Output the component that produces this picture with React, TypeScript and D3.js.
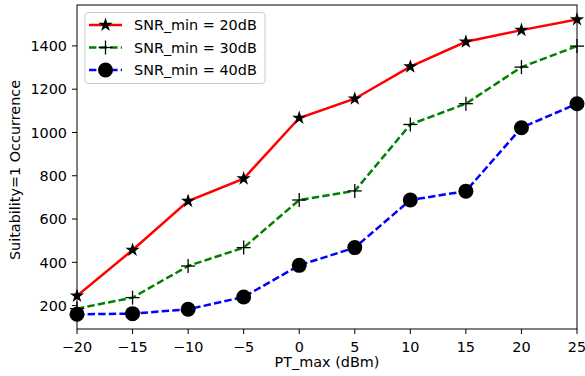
import React from "react";
import * as d3 from "d3";

const xValues = [-20, -15, -10, -5, 0, 5, 10, 15, 20, 25];
const snr20 = [245, 457, 683, 787, 1067, 1156, 1304, 1419, 1473, 1522];
const snr30 = [186, 237, 383, 468, 688, 730, 1037, 1133, 1302, 1399];
const snr40 = [160, 163, 183, 240, 386, 468, 688, 729, 1022, 1133];
const xTicks = [-20, -15, -10, -5, 0, 5, 10, 15, 20, 25];
const yTicks = [200, 400, 600, 800, 1000, 1200, 1400];
const seriesNames = ["SNR_min = 20dB", "SNR_min = 30dB", "SNR_min = 40dB"];

const W = 585, H = 376;
const M = { left: 77, right: 577, top: 5, bottom: 329 };
const FONT = "DejaVu Sans, sans-serif";
const FS = 14.4;

function starPath(cx: number, cy: number, R: number) {
  const r = R * 0.381966;
  const pts: string[] = [];
  for (let i = 0; i < 10; i++) {
    const a = -Math.PI / 2 + (i * Math.PI) / 5;
    const rr = i % 2 === 0 ? R : r;
    pts.push(`${cx + rr * Math.cos(a)},${cy + rr * Math.sin(a)}`);
  }
  return "M" + pts.join("L") + "Z";
}

function Marker({ kind, x, y }: { kind: string; x: number; y: number }) {
  if (kind === "star") return <path d={starPath(x, y, 7.5)} fill="black" />;
  if (kind === "plus")
    return (
      <g stroke="black" strokeWidth={1.3}>
        <line x1={x - 7} x2={x + 7} y1={y} y2={y} />
        <line x1={x} x2={x} y1={y - 7} y2={y + 7} />
      </g>
    );
  return <circle cx={x} cy={y} r={7.5} fill="black" />;
}

export default function App() {
  const x = d3.scaleLinear().domain([-20, 25]).range([M.left, M.right]);
  const y = d3.scaleLinear().domain([92, 1589]).range([M.bottom, M.top]);
  const series = [
    { name: seriesNames[0], data: snr20, color: "#ff0000", dash: undefined, marker: "star" },
    { name: seriesNames[1], data: snr30, color: "#008000", dash: "7.4,3.2", marker: "plus" },
    { name: seriesNames[2], data: snr40, color: "#0000ff", dash: "7.4,3.2", marker: "circle" },
  ];
  const line = d3
    .line<number>()
    .x((_, i) => x(xValues[i]))
    .y((d) => y(d));

  return (
    <div style={{ position: "absolute", left: 0, top: 0 }}>
      <svg width={W} height={H} style={{ display: "block", background: "white" }} fontFamily={FONT}>
        <defs>
          <clipPath id="plotclip">
            <rect x={M.left} y={M.top} width={M.right - M.left} height={M.bottom - M.top} />
          </clipPath>
        </defs>
        <rect x={0} y={0} width={W} height={H} fill="white" />
        <g clipPath="url(#plotclip)">
          {series.map((s) => (
            <path key={s.name} d={line(s.data) || ""} fill="none" stroke={s.color} strokeWidth={2.5} strokeDasharray={s.dash} />
          ))}
        </g>
        {series.map((s) =>
          s.data.map((v, i) => <Marker key={s.name + i} kind={s.marker} x={x(xValues[i])} y={y(v)} />)
        )}
        <rect x={M.left} y={M.top} width={M.right - M.left} height={M.bottom - M.top} fill="none" stroke="black" strokeWidth={1} />
        {xTicks.map((t) => (
          <g key={"x" + t}>
            <line x1={x(t)} x2={x(t)} y1={M.bottom} y2={M.bottom + 5} stroke="black" strokeWidth={1} />
            <text x={x(t)} y={351.5} textAnchor="middle" fontSize={FS} fill="#000">
              {t < 0 ? "\u2212" + Math.abs(t) : String(t)}
            </text>
          </g>
        ))}
        {yTicks.map((t) => (
          <g key={"y" + t}>
            <line x1={M.left - 5} x2={M.left} y1={y(t)} y2={y(t)} stroke="black" strokeWidth={1} />
            <text x={M.left - 10} y={y(t)} dy="0.36em" textAnchor="end" fontSize={FS} fill="#000">
              {t}
            </text>
          </g>
        ))}
        <text x={(M.left + M.right) / 2} y={367} textAnchor="middle" fontSize={FS} fill="#000">
          PT_max (dBm)
        </text>
        <text transform={`translate(20,170) rotate(-90)`} textAnchor="middle" fontSize={FS} fill="#000">
          Suitability=1 Occurrence
        </text>
        <g>
          <rect x={85} y={12.5} width={180} height={71} rx={3} fill="white" fillOpacity={0.8} stroke="#cccccc" strokeWidth={1} />
          {series.map((s, i) => {
            const ly = 25 + i * 22.5;
            return (
              <g key={"lg" + i}>
                <line x1={89} x2={122} y1={ly} y2={ly} stroke={s.color} strokeWidth={2.5} strokeDasharray={s.dash} />
                <Marker kind={s.marker} x={105.5} y={ly} />
                <text x={134} y={ly} dy="0.36em" fontSize={FS} fill="#000">
                  {s.name}
                </text>
              </g>
            );
          })}
        </g>
      </svg>
    </div>
  );
}
